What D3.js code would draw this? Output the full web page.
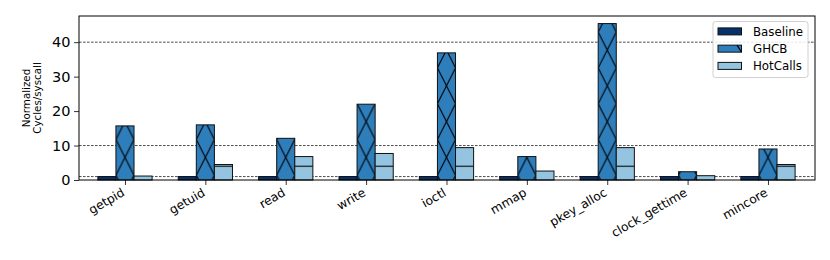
<!DOCTYPE html>
<html>
<head>
<meta charset="utf-8">
<script src="https://cdn.jsdelivr.net/npm/d3@7"></script>
<style>
  body { margin: 0; background: #fff; }
  text { font-family: "DejaVu Sans", sans-serif; fill: #000; }
</style>
</head>
<body>
<div id="chart"></div>
<script>
// data
const syscalls = ["getpid", "getuid", "read", "write", "ioctl", "mmap", "pkey_alloc", "clock_gettime", "mincore"];
const baseline = [1, 1, 1, 1, 1, 1, 1, 1, 1];
const ghcb = [15.7, 16.0, 12.1, 22.0, 36.9, 6.8, 45.4, 2.4, 9.0];
const hotcalls = [1.15, 4.5, 6.8, 7.7, 9.4, 2.6, 9.4, 1.25, 4.5];
const seriesNames = ["Baseline", "GHCB", "HotCalls"];
const yTicks = [0, 10, 20, 30, 40];
const refLines = [1, 10, 40];

const colors = ["#08306b", "#2e7ebc", "#94c4df"];

const W = 830, H = 260;
const margin = { top: 16, right: 15, bottom: 80, left: 79 };
const width = W - margin.left - margin.right;
const height = H - margin.top - margin.bottom;

const svg = d3.select("#chart").append("svg")
  .attr("width", W)
  .attr("height", H);

const defs = svg.append("defs");
const g = svg.append("g")
  .attr("transform", "translate(" + margin.left + "," + margin.top + ")");

// x is the index of the syscall, bars are offset from it
const xScale = d3.scaleLinear().domain([-0.572, 8.585]).range([0, width]);
const yScale = d3.scaleLinear().domain([0, 47.6]).range([height, 0]);
const barW = 0.225;
const step = xScale(1) - xScale(0);
const bw = xScale(barW) - xScale(0);

// X hatch, one cross per GHCB bar
const hatchH = 35.8;
const px = defs.append("pattern")
  .attr("id", "hatchX")
  .attr("patternUnits", "userSpaceOnUse")
  .attr("x", xScale(0) - step / 2)
  .attr("y", 16.1)
  .attr("width", step)
  .attr("height", hatchH);
px.append("path")
  .attr("d", `M${step / 2 - bw / 2},0L${step / 2 + bw / 2},${hatchH}M${step / 2 + bw / 2},0L${step / 2 - bw / 2},${hatchH}`)
  .attr("stroke", "#000")
  .attr("stroke-width", 1.1)
  .attr("fill", "none");

// horizontal hatch for HotCalls
const ph = defs.append("pattern")
  .attr("id", "hatchH")
  .attr("patternUnits", "userSpaceOnUse")
  .attr("x", 0)
  .attr("y", yScale(0) - 14.3 - 4 * hatchH)
  .attr("width", 10)
  .attr("height", hatchH);
ph.append("line")
  .attr("x1", 0).attr("x2", 10)
  .attr("y1", 0.5).attr("y2", 0.5)
  .attr("stroke", "#000")
  .attr("stroke-width", 1.1);

// dashed reference lines behind the bars
g.selectAll(".ref")
  .data(refLines)
  .enter()
  .append("line")
  .attr("class", "ref")
  .attr("x1", 0)
  .attr("x2", width)
  .attr("y1", (d) => yScale(d))
  .attr("y2", (d) => yScale(d))
  .style("stroke", "#222")
  .style("stroke-width", 0.8)
  .style("stroke-dasharray", "2.6,1.4");

const series = [baseline, ghcb, hotcalls];
const hatches = [null, "url(#hatchX)", "url(#hatchH)"];

series.forEach(function (vals, s) {
  const off = (s - 1) * barW;
  const sel = g.append("g").attr("class", "series-" + s);

  sel.selectAll("rect.fill")
    .data(vals)
    .enter()
    .append("rect")
    .attr("class", "fill")
    .attr("x", (d, i) => xScale(i + off - barW / 2))
    .attr("y", (d) => yScale(d))
    .attr("width", bw)
    .attr("height", (d) => yScale(0) - yScale(d))
    .style("fill", colors[s]);

  if (hatches[s]) {
    sel.selectAll("rect.hatch")
      .data(vals)
      .enter()
      .append("rect")
      .attr("class", "hatch")
      .attr("x", (d, i) => xScale(i + off - barW / 2))
      .attr("y", (d) => yScale(d))
      .attr("width", bw)
      .attr("height", (d) => yScale(0) - yScale(d))
      .style("fill", hatches[s]);
  }

  sel.selectAll("rect.edge")
    .data(vals)
    .enter()
    .append("rect")
    .attr("class", "edge")
    .attr("x", (d, i) => xScale(i + off - barW / 2))
    .attr("y", (d) => yScale(d))
    .attr("width", bw)
    .attr("height", (d) => yScale(0) - yScale(d))
    .style("fill", "none")
    .style("stroke", "#111")
    .style("stroke-width", 1);
});

// axes
const xAxis = d3.axisBottom(xScale)
  .tickValues(d3.range(syscalls.length))
  .tickFormat((d) => syscalls[d])
  .tickSizeOuter(0)
  .tickSize(5);

const gx = g.append("g")
  .attr("class", "x axis")
  .attr("transform", "translate(0," + height + ")")
  .call(xAxis);
gx.select(".domain").remove();
gx.selectAll("line").style("stroke", "#000").style("stroke-width", 0.8);
gx.selectAll("text")
  .style("font-size", "12.2px")
  .style("text-anchor", "end")
  .attr("dy", null)
  .attr("y", 0)
  .attr("transform", "translate(0,15) rotate(-30)");

const yAxis = d3.axisLeft(yScale)
  .tickValues(yTicks)
  .tickSizeOuter(0)
  .tickSize(5)
  .tickPadding(3.5);

const gy = g.append("g")
  .attr("class", "y axis")
  .call(yAxis);
gy.select(".domain").remove();
gy.selectAll("line").style("stroke", "#000").style("stroke-width", 0.8);
gy.selectAll("text").style("font-size", "14.5px");

// frame
g.append("rect")
  .attr("x", 0)
  .attr("y", 0)
  .attr("width", width)
  .attr("height", height)
  .style("fill", "none")
  .style("stroke", "#000")
  .style("stroke-width", 1);

// y label, two lines
const ylab = g.append("text")
  .attr("transform", "translate(-47," + (height / 2) + ") rotate(-90)")
  .attr("text-anchor", "middle")
  .style("font-size", "10.3px");
ylab.append("tspan").attr("x", 0).attr("dy", "-0.2em").text("Normalized");
ylab.append("tspan").attr("x", 0).attr("dy", "1.05em").text("Cycles/syscall");

// legend
const lg = g.append("g")
  .attr("transform", "translate(" + (width - 102) + ",5.5)");
lg.append("rect")
  .attr("width", 95)
  .attr("height", 56)
  .attr("rx", 2.5)
  .style("fill", "#fff")
  .style("fill-opacity", 0.85)
  .style("stroke", "#d0d0d0")
  .style("stroke-width", 1);

seriesNames.forEach(function (name, s) {
  const row = lg.append("g").attr("transform", "translate(5," + (6.4 + s * 17.25) + ")");
  row.append("rect")
    .attr("width", 23.5)
    .attr("height", 7)
    .style("fill", colors[s])
    .style("stroke", "#111")
    .style("stroke-width", 1);
  if (s === 1) {
    row.append("line")
      .attr("x1", 19).attr("y1", 0)
      .attr("x2", 23.5).attr("y2", 7)
      .style("stroke", "#000")
      .style("stroke-width", 1.1);
  }
  row.append("text")
    .attr("x", 35)
    .attr("y", 3.5)
    .attr("dy", "0.35em")
    .style("font-size", "11.8px")
    .text(name);
});
</script>
</body>
</html>
